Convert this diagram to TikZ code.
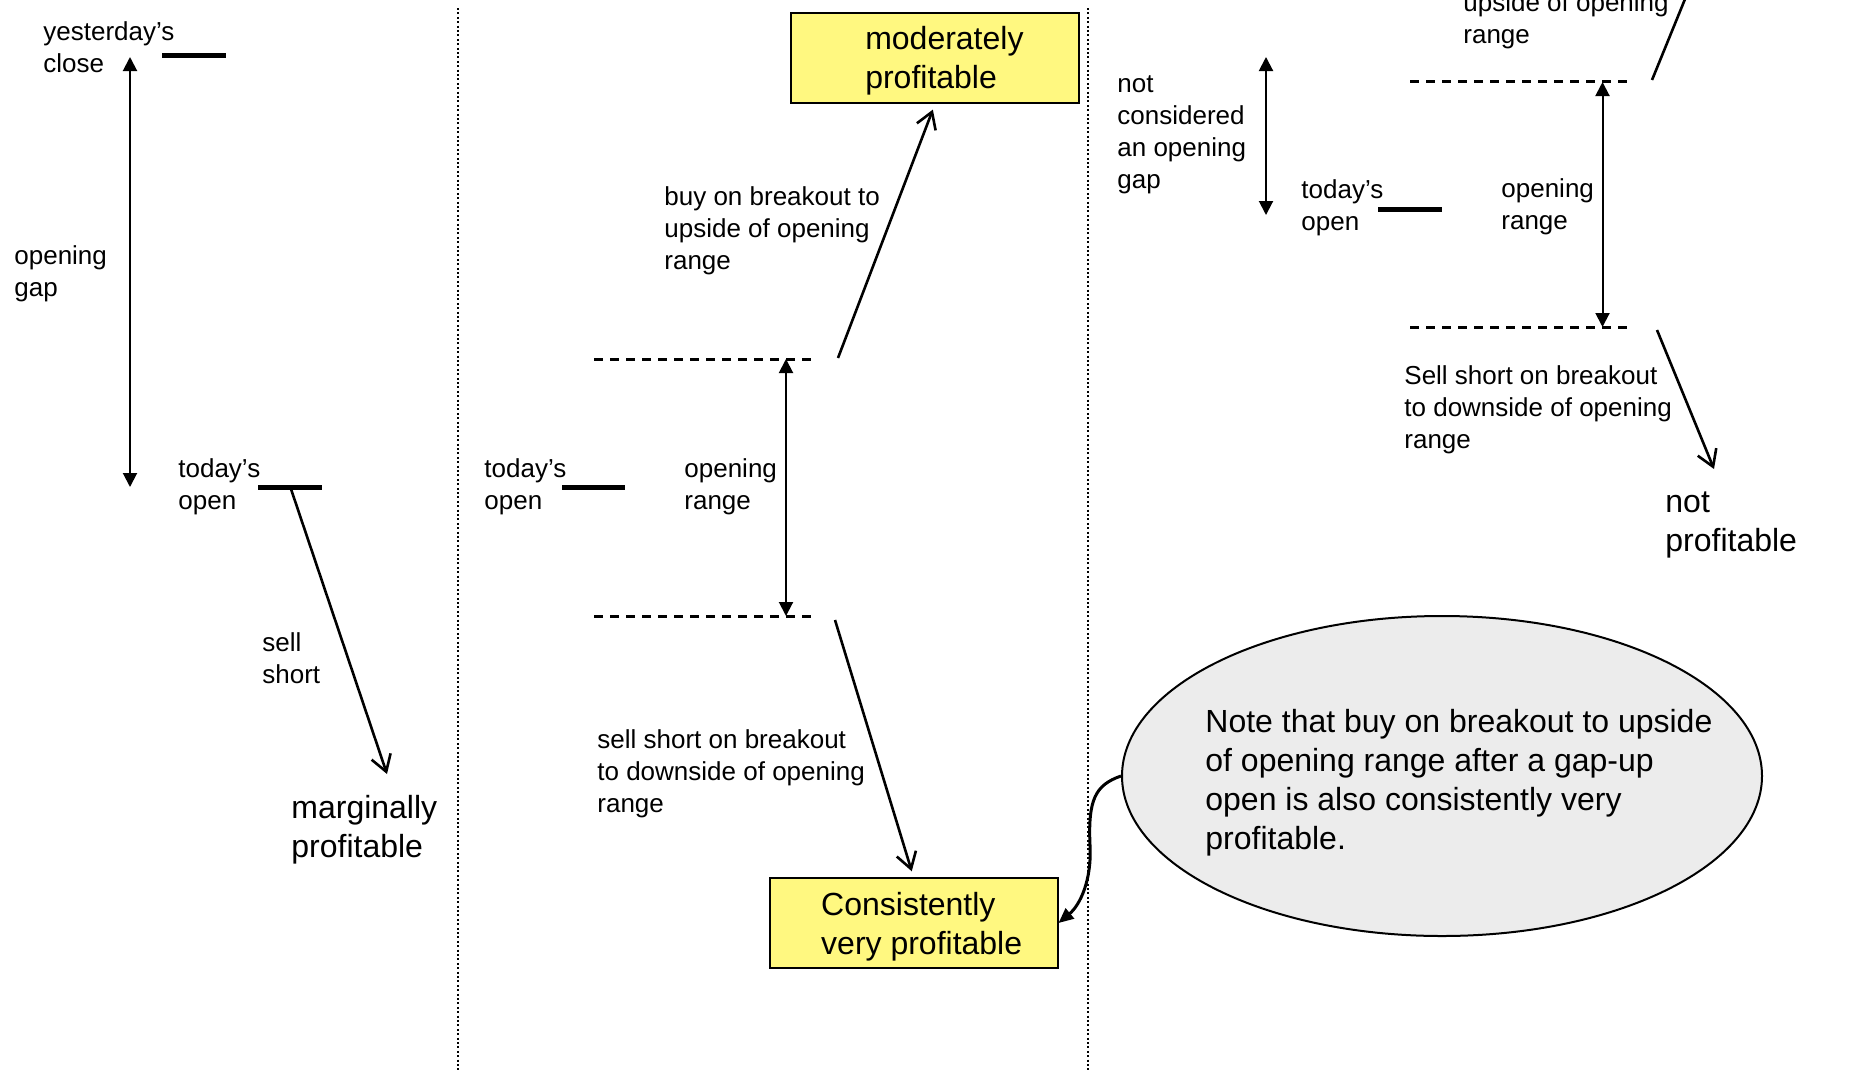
\documentclass[tikz,border=0pt]{standalone}
\usepackage{fontspec}
\setmainfont{Liberation Sans}
\usetikzlibrary{arrows.meta,shapes.geometric}

\begin{document}
\begin{tikzpicture}
[
    x=0.5pt, y=-0.5pt,
    lbl/.style={font=\fontsize{13}{16}\selectfont, align=left, inner sep=0pt, anchor=west, yshift=-1.75pt},
    biglbl/.style={font=\fontsize{16}{19.5}\selectfont, align=left, inner sep=0pt, anchor=west, yshift=-2pt},
    pricebar/.style={line width=2.5pt},
    rangeline/.style={line width=1.5pt, dash pattern=on 4.5pt off 3.5pt},
    spanarrow/.style={line width=1pt, {Triangle[length=7pt,width=7pt]}-{Triangle[length=7pt,width=7pt]}},
    trade/.style={line width=1.3pt, -{Straight Barb[length=8pt,width=10pt]}},
    result/.style={draw, line width=1pt, fill=yellow!50, minimum width=144pt, minimum height=45pt},
    resulttxt/.style={font=\fontsize{16}{19.5}\selectfont, align=left, inner sep=0pt},
    bubble/.style={ellipse, draw, line width=1pt, fill=gray!15, minimum width=320pt, minimum height=160pt, inner sep=0pt},
    calloutline/.style={line width=1.5pt, -{Triangle[length=7.5pt,width=6.5pt]}},
    divider/.style={line width=1pt, dash pattern=on 1pt off 1.2pt},
]
\useasboundingbox (0,0) rectangle (1853,1072);
\clip (0,0) rectangle (1853,1072);

\draw[divider] (458,8) -- (458,1072);
\draw[divider] (1088,8) -- (1088,1072);

% gap-down open
\coordinate (ycA) at (162,55);
\coordinate (ycB) at (226,55);
\coordinate (toA) at (258,487);
\coordinate (toB) at (322,487);
\draw[pricebar] (ycA) -- (ycB);
\draw[pricebar] (toA) -- (toB);
\node[lbl] (yclose) at (43,44) {yesterday’s\\close};
\node[lbl] (gap) at (14,270) {opening\\gap};
\node[lbl] (topen) at (178,483) {today’s\\open};
\coordinate (gapT) at (130,57);
\coordinate (gapB) at (130,487);
\draw[spanarrow] (gapT) -- (gapB);
\coordinate (shortS) at (291,489);
\coordinate (shortE) at (387,774);
\draw[trade] (shortS) -- (shortE);
\node[lbl] (sell) at (262,655) {sell\\short};
\node[biglbl] (marg) at (291,826) {marginally\\profitable};

% gap-up open
\node[result] (mod) at (935,58) {};
\node[resulttxt] (modtxt) at ([xshift=4.7pt,yshift=-1.2pt]mod.center) {moderately\\profitable};
\node[result] (cv) at (913.5,923) {};
\node[resulttxt] (cvtxt) at ([xshift=4.1pt,yshift=-1.75pt]cv.center) {Consistently\\very profitable};
\coordinate (hiA) at (594,359);
\coordinate (hiB) at (811,359);
\coordinate (loA) at (594,616);
\coordinate (loB) at (811,616);
\draw[rangeline] (hiA) -- (hiB);
\draw[rangeline] (loA) -- (loB);
\coordinate (orT) at (786,359);
\coordinate (orB) at (786,616);
\draw[spanarrow] (orT) -- (orB);
\node[lbl] (orng) at (684,483) {opening\\range};
\coordinate (to2A) at (562,487);
\coordinate (to2B) at (625,487);
\draw[pricebar] (to2A) -- (to2B);
\node[lbl] (topen2) at (484,483) {today’s\\open};
\coordinate (buyS) at (838,358);
\draw[trade, shorten >=3pt] (buyS) -- (mod.south);
\node[lbl] (buy) at (664,227) {buy on breakout to\\upside of opening\\range};
\coordinate (dnS) at (835,620);
\draw[trade, shorten >=3pt] (dnS) -- (cv.north);
\node[lbl] (dn) at (597,770) {sell short on breakout\\to downside of opening\\range};

% small gap
\node[lbl] (notgap) at (1117,131) {not\\considered\\an opening\\gap};
\coordinate (ngT) at (1266,57);
\coordinate (ngB) at (1266,215);
\draw[spanarrow] (ngT) -- (ngB);
\coordinate (to3A) at (1378,209);
\coordinate (to3B) at (1442,209);
\draw[pricebar] (to3A) -- (to3B);
\node[lbl] (topen3) at (1301,204) {today’s\\open};
\coordinate (hi3A) at (1410,81.5);
\coordinate (hi3B) at (1634,81.5);
\coordinate (lo3A) at (1410,327);
\coordinate (lo3B) at (1634,327);
\draw[rangeline] (hi3A) -- (hi3B);
\draw[rangeline] (lo3A) -- (lo3B);
\coordinate (or3T) at (1602.5,82);
\coordinate (or3B) at (1602.5,327);
\draw[spanarrow] (or3T) -- (or3B);
\node[lbl] (orng3) at (1501,203) {opening\\range};
\coordinate (up3S) at (1652,80);
\coordinate (up3E) at (1754,-170);
\draw[trade] (up3S) -- (up3E);
\node[lbl] (up3) at (1463,17.5) {upside of opening\\range};
\coordinate (dn3S) at (1657,330);
\coordinate (dn3E) at (1714,469);
\draw[trade] (dn3S) -- (dn3E);
\node[lbl] (dn3) at (1404,406.5) {Sell short on breakout\\to downside of opening\\range};
\node[biglbl] (notp) at (1665,521) {not\\profitable};

% note
\node[bubble] (note) at (1442,776) {};
\node[biglbl] (notetxt) at (1205,779) {Note that buy on breakout to upside\\of opening range after a gap-up\\open is also consistently very\\profitable.};
\draw[calloutline] (note.west) .. controls (1095,785) and (1088,800) .. (1090,845)
    .. controls (1092,880) and (1080,905) .. (cv.east);
\end{tikzpicture}
\end{document}
